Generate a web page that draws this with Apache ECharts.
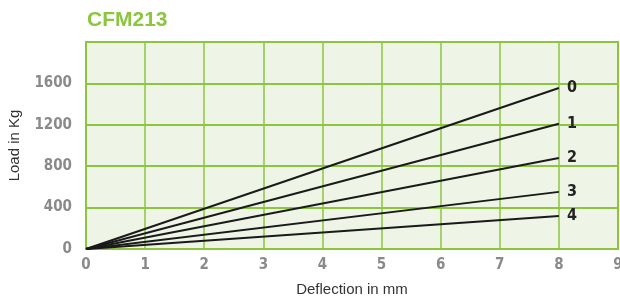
<!DOCTYPE html>
<html><head><meta charset="utf-8">
<script src="https://cdn.jsdelivr.net/npm/echarts@6/dist/echarts.min.js"></script>
<style>html,body{margin:0;padding:0;background:#fff}#c{width:620px;height:298px}</style>
</head><body><div id="c"></div>
<script>
const seriesNames = ['0','1','2','3','4'];
const deflection = [0, 8];
const load0 = [0, 1555];
const load1 = [0, 1210];
const load2 = [0, 880];
const load3 = [0, 552];
const load4 = [0, 318];
const loads = [load0, load1, load2, load3, load4];
const xTicks = [0,1,2,3,4,5,6,7,8,9];
const yTicks = [0,400,800,1200,1600];

const green = '#8cc63f';
const font = '"DejaVu Sans Condensed", "Liberation Sans Narrow", Arial, sans-serif';
const chart = echarts.init(document.getElementById('c'));
chart.setOption({
  animation: false,
  title: {text: 'CFM213', left: 82, top: 5, textStyle: {color: green, fontSize: 21, fontWeight: 900, fontFamily: '"Liberation Sans", Arial, sans-serif'}},
  grid: {left: 86, right: 2, top: 42, bottom: 49, outerBoundsMode: 'none', containLabel: false, show: true, backgroundColor: '#eef4e6', borderColor: green, borderWidth: 2},
  xAxis: {type: 'value', min: 0, max: 9, interval: 1,
    name: 'Deflection in mm', nameLocation: 'middle', nameGap: 33,
    nameTextStyle: {color: '#333', fontSize: 15, fontFamily: '"Liberation Sans", Arial, sans-serif'},
    axisLine: {show: true, lineStyle: {color: green, width: 2}}, axisTick: {show: false},
    axisLabel: {color: '#8a8a8a', fontSize: 15, fontWeight: 'bold', fontFamily: font, margin: 9,
      formatter: v => xTicks.includes(v) ? String(v) : ''},
    splitLine: {show: true, lineStyle: {color: green, width: 1.5}}},
  yAxis: {type: 'value', min: 0, max: 2000, interval: 400,
    name: 'Load in Kg', nameLocation: 'middle', nameGap: 64, nameRotate: 90,
    nameTextStyle: {color: '#333', fontSize: 15, fontFamily: '"Liberation Sans", Arial, sans-serif'},
    axisLine: {show: true, lineStyle: {color: green, width: 2}}, axisTick: {show: false},
    axisLabel: {color: '#8a8a8a', fontSize: 15, fontWeight: 'bold', fontFamily: font, margin: 14,
      formatter: v => yTicks.includes(v) ? String(v) : ''},
    splitLine: {show: true, lineStyle: {color: green, width: 2}}},
  series: loads.map((arr, i) => ({
    type: 'line', name: seriesNames[i], symbol: 'none',
    data: deflection.map((d, j) => [d, arr[j]]),
    lineStyle: {color: '#1a1a1a', width: 2},
    endLabel: {show: true, formatter: seriesNames[i], color: '#222', fontSize: 16, fontWeight: 'bold', fontFamily: font, distance: 8}
  }))
});
</script></body></html>
